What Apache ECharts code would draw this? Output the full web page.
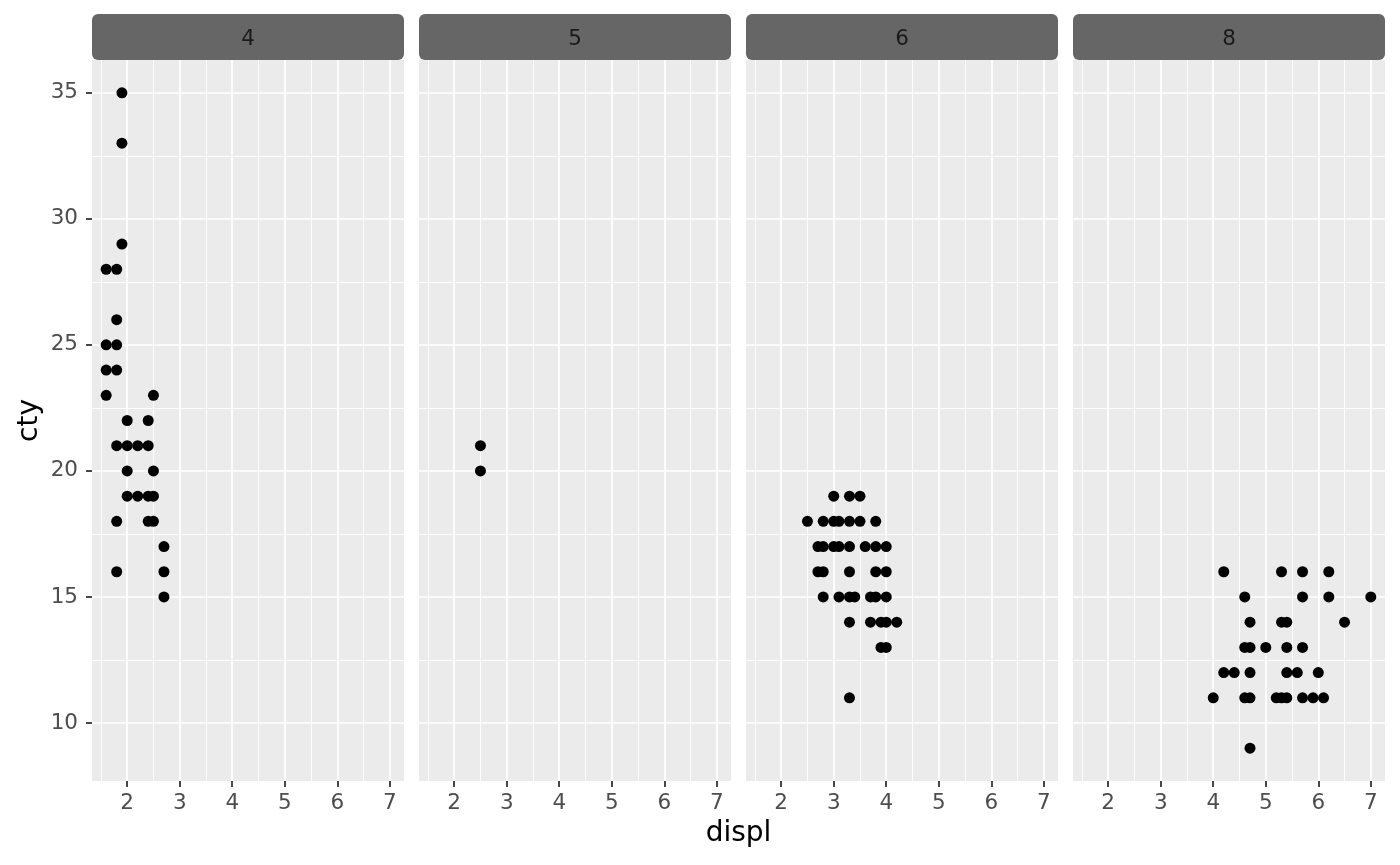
<!DOCTYPE html>
<html>
<head>
<meta charset="utf-8">
<script src="https://cdn.jsdelivr.net/npm/echarts@6/dist/echarts.min.js"></script>
<style>
html,body{margin:0;padding:0;background:#fff;}
#chart{width:1400px;height:865px;}
</style>
</head>
<body>
<div id="chart"></div>
<script>
// ---- data (mpg: displ vs cty, faceted by cyl) ----
const cylLabels = ['4', '5', '6', '8'];
const cyl4 = [[1.9,35],[1.9,33],[1.9,29],[1.6,28],[1.8,28],[1.8,26],[1.6,25],[1.8,25],[1.6,24],[1.8,24],
  [1.6,23],[2.5,23],[2.0,22],[2.4,22],[1.8,21],[2.0,21],[2.2,21],[2.4,21],[2.0,20],[2.5,20],
  [2.0,19],[2.2,19],[2.4,19],[2.5,19],[1.8,18],[2.4,18],[2.5,18],[2.7,17],[1.8,16],[2.7,16],[2.7,15]];
const cyl5 = [[2.5,21],[2.5,20]];
const cyl6 = [[3.0,19],[3.3,19],[3.5,19],
  [2.5,18],[2.8,18],[3.0,18],[3.1,18],[3.3,18],[3.5,18],[3.8,18],
  [2.7,17],[2.8,17],[3.0,17],[3.1,17],[3.3,17],[3.6,17],[3.8,17],[4.0,17],
  [2.7,16],[2.8,16],[3.3,16],[3.8,16],[4.0,16],
  [2.8,15],[3.1,15],[3.3,15],[3.4,15],[3.7,15],[3.8,15],[4.0,15],
  [3.3,14],[3.7,14],[3.9,14],[4.0,14],[4.2,14],
  [3.9,13],[4.0,13],[3.3,11]];
const cyl8 = [[4.2,16],[5.3,16],[5.7,16],[6.2,16],
  [4.6,15],[5.7,15],[6.2,15],[7.0,15],
  [4.7,14],[5.3,14],[5.4,14],[6.5,14],
  [4.6,13],[4.7,13],[5.0,13],[5.4,13],[5.7,13],
  [4.2,12],[4.4,12],[4.7,12],[5.4,12],[5.6,12],[6.0,12],
  [4.0,11],[4.6,11],[4.7,11],[5.2,11],[5.3,11],[5.4,11],[5.7,11],[5.9,11],[6.1,11],
  [4.7,9]];
const panelData = [cyl4, cyl5, cyl6, cyl8];
const xTicks = [2, 3, 4, 5, 6, 7];
const xMinor = [1.5, 2.5, 3.5, 4.5, 5.5, 6.5];
const yTicks = [10, 15, 20, 25, 30, 35];
const yMinor = [12.5, 17.5, 22.5, 27.5, 32.5];
const xRange = [1.33, 7.27];
const yRange = [7.7, 36.3];

// ---- layout ----
const L = { left0: 92, step: 327, width: 312, top: 60, height: 721, stripTop: 14, stripH: 46 };
const font = 'DejaVu Sans';

const grids = [], xAxes = [], yAxes = [], series = [], graphics = [];
panelData.forEach((pts, i) => {
  const left = L.left0 + L.step * i;
  grids.push({ left: left, top: L.top, width: L.width, height: L.height, show: true,
    backgroundColor: '#EBEBEB', borderWidth: 0, containLabel: false });
  xAxes.push({ type: 'value', gridIndex: i, min: xRange[0], max: xRange[1],
    axisLine: { show: false }, splitLine: { show: false },
    axisTick: { show: true, customValues: xTicks, length: 6, lineStyle: { color: '#333333', width: 1.8 } },
    axisLabel: { show: true, customValues: xTicks, margin: 11, color: '#4D4D4D', fontSize: 21.5, fontFamily: font } });
  yAxes.push({ type: 'value', gridIndex: i, min: yRange[0], max: yRange[1],
    axisLine: { show: false }, splitLine: { show: false },
    axisTick: { show: i === 0, customValues: yTicks, length: 6, lineStyle: { color: '#333333', width: 1.8 } },
    axisLabel: { show: i === 0, customValues: yTicks, margin: 14, color: '#4D4D4D', fontSize: 21.5, fontFamily: font },
    name: i === 0 ? 'cty' : '', nameLocation: 'middle', nameGap: 48, nameRotate: 90,
    nameTextStyle: { color: '#000', fontSize: 28, fontFamily: font } });
  const ml = [];
  xMinor.forEach(v => ml.push({ xAxis: v, lineStyle: { width: 0.9 } }));
  yMinor.forEach(v => ml.push({ yAxis: v, lineStyle: { width: 0.9 } }));
  xTicks.forEach(v => ml.push({ xAxis: v, lineStyle: { width: 1.7 } }));
  yTicks.forEach(v => ml.push({ yAxis: v, lineStyle: { width: 1.7 } }));
  series.push({ type: 'scatter', xAxisIndex: i, yAxisIndex: i, data: [], z: 1, silent: true,
    markLine: { silent: true, symbol: ['none', 'none'], label: { show: false }, animation: false,
      lineStyle: { color: '#FFFFFF', type: 'solid' }, emphasis: { disabled: true }, data: ml } });
  series.push({ type: 'scatter', xAxisIndex: i, yAxisIndex: i, data: pts, z: 5,
    symbol: 'circle', symbolSize: 11, itemStyle: { color: '#000000', opacity: 1 } });
  graphics.push({ type: 'rect', left: left, top: L.stripTop,
    shape: { width: L.width, height: L.stripH, r: 6 }, style: { fill: '#666666' }, z: 10 });
  graphics.push({ type: 'text', x: left + L.width / 2, y: L.stripTop + L.stripH / 2 + 2, z: 11,
    style: { text: cylLabels[i], fill: '#1A1A1A', font: '21.5px "DejaVu Sans"', textAlign: 'center', textVerticalAlign: 'middle' } });
});
graphics.push({ type: 'text', x: L.left0 + (L.step * 3 + L.width) / 2, y: 834, z: 11,
  style: { text: 'displ', fill: '#000', font: '28px "DejaVu Sans"', textAlign: 'center', textVerticalAlign: 'middle' } });

const chart = echarts.init(document.getElementById('chart'), null, { renderer: 'canvas' });
chart.setOption({
  animation: false,
  backgroundColor: '#FFFFFF',
  grid: grids, xAxis: xAxes, yAxis: yAxes, series: series, graphic: graphics
});
</script>
</body>
</html>
